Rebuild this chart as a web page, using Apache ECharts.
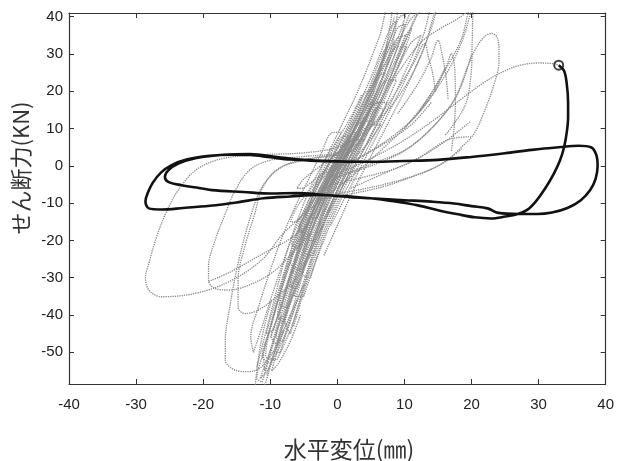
<!DOCTYPE html>
<html>
<head>
<meta charset="utf-8">
<script src="https://cdn.jsdelivr.net/npm/echarts@6/dist/echarts.min.js"></script>
<style>html,body{margin:0;padding:0;background:#fff}#c{width:617px;height:461px}</style>
</head>
<body>
<div id="c"></div>
<script>
// ---- axis ticks / labels ----
const xTicks = [-40, -30, -20, -10, 0, 10, 20, 30, 40];
const yTicks = [-50, -40, -30, -20, -10, 0, 10, 20, 30, 40];
const xTitle = '水平変位(㎜)';
const yTitle = 'せん断力(KN)';

// ---- gray (dotted) hysteresis traces: [displacement mm, shear kN] ----
const coreA = [[-10,-53],[-8.6,-46],[-7.2,-38],[-5.8,-29],[-4.3,-20],[-2.6,-11],[-0.8,-4],[1.2,3],[3.1,9],[5,16],[6.6,23],[8.1,30],[9.4,36],[10.2,40.5],[9.3,40],[7.9,34],[6.4,27],[4.6,20],[2.7,13],[0.8,6],[-1.2,-1],[-3.2,-8],[-5.1,-16],[-7,-26],[-8.8,-36],[-10.3,-45],[-11.2,-51],[-10,-53]];
const coreB = [[-8,-42],[-6.4,-33],[-4.9,-24],[-3.2,-15],[-1.4,-7],[0.5,0],[2.5,7],[4.4,14],[6.2,21],[7.7,28],[8.6,33],[7.6,31],[5.9,24],[4.1,17],[2.1,10],[0.1,3],[-1.9,-4],[-3.9,-12],[-5.7,-21],[-7.4,-31],[-8.9,-40],[-8,-42]];
const coreC = [[-6,-33],[-4.6,-25],[-3.1,-17],[-1.5,-9],[0.4,-2],[2.2,5],[4,12],[5.7,19],[7.1,25],[6.2,24],[4.6,18],[2.8,11],[0.9,4],[-1,-3],[-3,-11],[-4.8,-19],[-6.5,-28],[-7,-32],[-6,-33]];
const coreD = [[-4,-24],[-2.8,-17],[-1.3,-10],[0.5,-3],[2.3,4],[4,11],[5.4,17],[4.7,16.5],[3.1,10],[1.3,3],[-0.6,-4],[-2.4,-11],[-4.1,-18],[-5,-23],[-4,-24]];
const coreE = [[-7,-45],[-5.6,-36],[-4,-26],[-2.3,-17],[-0.4,-8],[1.7,0],[3.9,8],[6,16],[7.9,24],[9.5,31],[11,37],[12,41],[10.8,39],[9,33],[7.2,26],[5.3,18],[3.3,10],[1.2,2],[-0.9,-6],[-2.9,-15],[-4.7,-24],[-6.4,-34],[-7.8,-42],[-7,-45]];
const coreF = [[-11.2,-58],[-9.9,-50],[-8.5,-41],[-7.1,-32],[-5.6,-23],[-4,-14],[-2.2,-6],[-0.2,1],[1.8,8],[3.7,15],[5.4,22],[6.9,29],[8.1,35],[8.8,39],[7.9,37],[6.6,31],[5.1,24],[3.3,17],[1.4,10],[-0.6,3],[-2.6,-4],[-4.6,-12],[-6.4,-21],[-8.1,-31],[-9.6,-41],[-11,-50],[-12,-57],[-11.2,-58]];
const coreG = [[-9,-48],[-7.8,-40],[-6.6,-32],[-5.3,-24],[-3.9,-16],[-2.2,-8],[-0.3,-1],[1.6,6],[3.4,13],[5,19],[6.4,26],[7.5,32],[6.7,30],[5.4,24],[3.9,17],[2.1,10],[0.2,3],[-1.7,-4],[-3.6,-12],[-5.4,-21],[-7.1,-30],[-8.6,-39],[-9.8,-46],[-9,-48]];
const coreH = [[-10.5,-56],[-9.3,-49],[-8.1,-41],[-6.8,-33],[-5.4,-25],[-3.8,-17],[-2.1,-9],[-0.1,-2],[2,5],[4.1,12],[6,19],[7.7,26],[9.2,33],[10.6,40],[11.2,42]];
const coreI = [[-2.7,-12],[-0.7,-5],[1.3,2],[3.3,9],[5.1,16],[6.6,23],[7.8,30],[8.6,36],[9,42],[8.3,42],[8,39],[7.4,33],[6.5,26],[5.3,19],[3.8,12],[2,5],[0,-1],[-2,-8]];
const coreJ = [[-5,-18],[-3.3,-11],[-1.5,-5],[0.4,1],[2.3,7],[4.1,13],[3.4,12.5],[1.6,7],[-0.3,1],[-2.2,-5],[-4,-11],[-5.7,-17],[-5,-18]];
const coreK = [[-3,-14],[-1.2,-7],[0.8,-1],[2.8,5],[4.6,11],[6.2,17],[5.3,16],[3.5,10],[1.5,4],[-0.5,-3],[-2.4,-9],[-3.9,-14],[-3,-14]];
const coreL = [[-6,-22],[-4.4,-15],[-2.6,-8],[-0.7,-2],[1.1,4],[2.8,9],[2,8.5],[0.2,3],[-1.6,-3],[-3.5,-9],[-5.3,-16],[-6.8,-21],[-6,-22]];
const coreM = [[-8.5,-50],[-7.4,-43],[-6.1,-35],[-4.8,-27],[-3.3,-19],[-1.6,-11],[0.3,-4],[2.2,2],[4.2,9],[6.1,16],[7.8,22],[9.3,28],[10.4,33],[11.1,37],[10.2,35],[8.8,29],[7.1,22],[5.2,15],[3.1,8],[1,1],[-1.1,-6],[-3.1,-14],[-4.9,-23],[-6.6,-33],[-8.2,-43],[-9.3,-50],[-8.5,-50]];
const coreN = [[-9,-52],[-7,-44],[-5.2,-34],[-3.5,-24],[-1.8,-15],[0,-7],[2,0],[4,7],[6,14],[7.8,21],[9.2,27],[10.3,32],[9,32],[7,27],[5,21],[3,14],[0.8,7],[-1.5,0],[-3.6,-7],[-5.5,-15],[-7.3,-25],[-8.8,-35],[-10.2,-45],[-10.7,-51],[-9,-52]];
const coreO = [[-7.5,-38],[-5.5,-30],[-3.5,-21],[-1.2,-12],[1.2,-4],[3.5,3],[5.6,10],[7.4,17],[8.8,23],[7.5,23],[5.5,17],[3.2,10],[0.8,3],[-1.6,-4],[-3.9,-12],[-6,-21],[-7.8,-30],[-8.6,-37],[-7.5,-38]];
const coreP = [[-5.5,-28],[-3.2,-20],[-0.8,-11],[1.6,-3],[3.8,4],[5.8,11],[7.4,17],[6,17],[3.9,11],[1.6,4],[-0.9,-3],[-3.3,-11],[-5.5,-19],[-7,-26],[-5.5,-28]];
const coreQ = [[-10,-46],[-8.4,-38],[-7,-30],[-5.8,-22],[-4.6,-14],[-3.4,-6],[-2,1],[-0.4,7],[1.2,13],[2.8,19],[4.2,25],[5.5,31],[6.5,36],[7.2,42]];
const coreR = [[-1,-16],[1,-9],[3,-2],[5,5],[7,12],[9,19],[10.6,25],[12,31],[13,36],[13.8,42]];
const coreS = [[-4,-30],[-2.6,-22],[-1,-14],[1,-6],[3,1],[4.9,8],[6.8,15],[6,15.5],[4,9],[2,3],[0,-4],[-2,-12],[-3.8,-21],[-5.2,-29],[-4,-30]];
const coreT = [[-12,-54],[-11,-47],[-10,-40],[-9,-33],[-8,-26],[-6.8,-19],[-5.4,-12],[-3.8,-5],[-2,1],[0,7],[2,13],[3.6,19]];
const coreU = [[-8,-47],[-6.5,-39],[-5,-31],[-3.6,-23],[-2.1,-15],[-0.4,-8],[1.4,-1],[3.2,6],[5,13],[6.6,20],[8,27],[9.2,33],[10,38],[9,37],[7.6,31],[6.1,24],[4.4,17],[2.6,10],[0.7,3],[-1.3,-4],[-3.2,-12],[-4.9,-21],[-6.5,-30],[-7.9,-39],[-9.1,-46],[-8,-47]];
const coreV = [[-6.5,-43],[-5.2,-35],[-3.8,-27],[-2.3,-19],[-0.6,-11],[1.2,-4],[3,3],[4.8,10],[6.5,17],[8,24],[9.4,30],[10.5,35],[11.4,39],[12.5,42]];
const coreW = [[-10.8,-55],[-9.6,-47],[-8.3,-38],[-6.9,-29],[-5.3,-20],[-3.6,-12],[-1.7,-5],[0.3,2],[2.2,8],[3.9,14],[5.5,20],[4.5,20],[2.8,14],[1,8],[-1,1],[-3,-6],[-4.9,-14],[-6.6,-23],[-8.2,-32],[-9.7,-42],[-11,-51],[-10.8,-55]];
const coreX = [[-3.5,-20],[-1.7,-13],[0.2,-6],[2.2,1],[4.2,8],[6,15],[7.6,22],[9,29],[10.2,35],[8.8,34],[7.3,28],[5.6,21],[3.7,14],[1.7,7],[-0.3,0],[-2.3,-7],[-4.2,-15],[-5.3,-20],[-3.5,-20]];
const coreY = [[-7,-30],[-5.6,-23],[-4,-16],[-2.3,-9],[-0.5,-2],[1.3,5],[3,12],[4.5,18],[5.8,24],[6.9,30],[7.8,35],[8.5,40]];
const coreZ = [[-9.5,-44],[-8.2,-36],[-6.8,-28],[-5.3,-20],[-3.6,-12],[-1.8,-5],[0.1,2],[2,8],[1,8],[-0.9,2],[-2.8,-5],[-4.6,-12],[-6.4,-20],[-8,-29],[-9.5,-38],[-10.6,-45],[-9.5,-44]];
const coreAA = [[-2,-24],[0,-16],[2,-8],[4,-1],[6,6],[8,13],[10,20],[11.8,27],[13.2,33],[14.2,38],[14.8,42]];
const coreAB = [[-5,-35],[-3.5,-27],[-1.8,-19],[0,-11],[2,-4],[4,3],[6,10],[8,17],[9.8,24],[11.3,30],[12.5,35],[11,33],[9.2,27],[7.3,20],[5.3,13],[3.2,6],[1,-1],[-1.2,-9],[-3.2,-18],[-5,-27],[-6.4,-35],[-5,-35]];
const coreAC = [[-12.5,-50],[-11.2,-43],[-9.8,-35],[-8.3,-27],[-6.7,-19],[-5,-12],[-3.2,-5],[-1.3,2],[0.6,9],[-0.6,9],[-2.5,3],[-4.4,-4],[-6.3,-11],[-8.2,-19],[-10,-28],[-11.6,-37],[-12.9,-46],[-12.5,-50]];
const tailA = [[-6,-36],[-7.5,-44],[-9,-50],[-10.5,-55],[-11.5,-57],[-10.5,-52],[-9.5,-47],[-8.3,-40]];
const tailB = [[-5.5,-40],[-7,-47],[-8.8,-53],[-9.8,-55],[-9,-50],[-8,-44]];
const mid1 = [[-6,-15],[-3.5,-9],[-1,-3],[1.5,3],[4,8],[5.5,12],[4,12],[1.5,7],[-1,1],[-3.5,-5],[-6,-11],[-7,-15],[-6,-15]];
const mid2 = [[-3,-8],[-0.5,-4],[2,1],[4.5,6],[6.5,11],[5,11],[2.5,6],[0,1],[-2.5,-4],[-4.5,-8],[-3,-8]];
const mid3 = [[-5,-6],[-2.5,-2.5],[0,1],[2.5,4.5],[4,7],[2.5,7],[0,3.5],[-2.5,0],[-5,-3.5],[-6,-6],[-5,-6]];
const loopL1 = [[20,42],[18.5,33],[16,24],[12,14],[7,5],[2,-3],[-3,-10],[-8,-18],[-11.3,-25.3],[-16.2,-31.1],[-21.2,-34.2],[-26.2,-35.1],[-28.1,-33.3],[-28.6,-29.8],[-28.1,-26.2],[-27.1,-19.9],[-25.6,-12.8],[-23.7,-6.5],[-21,-1],[-17,2],[-11,3],[-5,3.5],[0,5],[4,9],[8,16],[11,24],[13,32],[14,38],[14.6,42]];
const loopL2 = [[-4,-18],[-7,-24],[-10,-29],[-13.8,-32.4],[-16.2,-33.3],[-18.2,-32.9],[-19.2,-30.7],[-19.2,-27.1],[-18.2,-19.9],[-16.7,-12.8],[-15.2,-6.5],[-13,-1],[-10,1.5],[-5,2.5],[0,3.5],[3,6]];
const loopL3 = [[-4,-24],[-6,-30],[-9,-35],[-11.8,-38.7],[-13.8,-39.6],[-14.8,-37.8],[-14.8,-30.6],[-13.8,-21.7],[-12.3,-12.8],[-11.3,-6.5],[-9,-1],[-5,1.5],[0,3],[2,5]];
const loopL4 = [[-7,-40],[-9,-48],[-11.3,-53.9],[-13.3,-55.2],[-15.2,-54.8],[-16.7,-52.1],[-16.7,-46.7],[-16.2,-39.6],[-14.8,-26.2],[-12.8,-12.8],[-11,-5],[-8,0],[-4,2],[0,3]];
const loopL5 = [[-5,-32],[-7.5,-42],[-9.5,-51],[-11.5,-60],[-12.3,-60],[-11.8,-52],[-11,-44],[-9.8,-36]];
const crossL = [[-19.2,-31],[-16,-28.5],[-13,-25.5],[-10,-22.5],[-7,-19.5],[-4,-15]];
const loopR1 = [[-2,-8],[3,-6.5],[8,-4.5],[12.5,-2],[16,1],[18.5,5],[20.4,8.7],[22,15],[23.4,22.1],[24.1,28],[24.1,31],[23.8,34.5],[23,35.5],[21.9,34.6],[20.5,31],[19.4,26.5],[17.4,17.6],[14,10],[10,4],[5,0],[0,-3]];
const toMark = [[-1,-3],[5,2],[10,6.9],[15,13.1],[18.9,18.5],[22.4,23],[25,25.5],[27.3,27],[30,27.6],[32.3,27.4],[33,27]];
const fanA = [[-3,-9],[2,-7.5],[7,-5.5],[11,-3],[15,0],[18.5,4.5]];
const fanB = [[-1,-5],[4,-3],[9,-0.5],[13,3],[16.4,7],[19.9,12]];
const fanC = [[0,-3],[5,0.5],[10,4.2],[14,10],[17.4,17.6],[19,24],[20,30]];
const fanD = [[2,-6],[7,-2],[12,2],[16.5,7],[19.9,7.8]];
const fanE = [[1,0],[5,4],[9,9],[12,14],[14.5,20],[16,26]];
const fanF = [[-2,-2],[3,2],[7,6],[11,11],[14,17]];
const sawA = [[4,8],[7,15],[9.5,22],[11.5,28],[13,32.8],[13.6,29],[14.2,25],[14.6,20]];
const sawB = [[9,14],[12,22],[14,29],[15,33.7],[15.6,30],[16.2,24],[16.5,18]];
const sawC = [[12,14],[14.5,21],[16.3,27],[17,30.1],[17.5,26],[17.6,18],[17.4,10],[17,4]];
const sawD = [[10,10],[13.5,18],[16.5,27],[18.5,34],[19.9,42],[20.2,42],[20.1,33],[19.9,24],[19,16],[16,8]];
const arcA = [[8,22],[11,30],[13,34],[15.5,37],[18,39.5],[19.8,42]];

// ---- black (bold) trace, starting at the circle marker ----
const blackPath = [[33,27],[33.8,25.5],[34.2,22],[34.4,17],[34.4,13],[34.2,9],[33.8,5],[33.2,1.5],[32.3,-2],[31,-6],[29.6,-9.5],[28.3,-11.8],[26.9,-12.9],[25,-13.6],[22.9,-14.1],[20.5,-13.8],[18,-13],[15,-11.9],[12,-10.6],[8,-9.4],[5,-8.7],[2,-8.2],[0,-8],[-3,-7.8],[-7,-8.2],[-11,-8.7],[-15,-9.8],[-19,-10.7],[-23,-11.3],[-26.2,-11.7],[-28.1,-11.4],[-28.6,-9.5],[-28.2,-7],[-27.5,-4.5],[-26.3,-1.8],[-24.7,0.2],[-22.5,1.7],[-19,2.7],[-16,3],[-13,2.9],[-10,2.3],[-7,1.7],[-4,1.4],[0,1.2],[5,1.1],[10,1.3],[15,1.6],[20,2.4],[25,3.4],[29,4.3],[33,5],[36,5.4],[37.8,5],[38.6,3],[38.8,0],[38.5,-3.5],[37.7,-6.5],[36.3,-9.2],[34.3,-11.3],[32,-12.5],[29.8,-12.9],[27,-12.9],[24,-12.6],[22.4,-11.4],[20,-10.8],[17.4,-10.1],[14,-9.6],[10,-9.2],[5,-8.7],[2,-8.4],[0,-8.1],[-3,-7.6],[-6,-7.3],[-10,-7.4],[-14,-7],[-18.7,-6.5],[-21,-5.8],[-23.2,-5.2],[-25.2,-4.3],[-25.7,-2.9],[-25.2,-1.2],[-23.7,0.6],[-21,2.1],[-17,3],[-13,3.2],[-9,2.4],[-5,1.6],[-1,1.3]];
const startPoint = [blackPath[0]];

const grayTraces = [coreA, coreB, coreC, coreD, coreE, coreF, coreG, coreH, coreI, coreJ, coreK, coreL, coreM,
  coreN, coreO, coreP, coreQ, coreR, coreS, coreT, coreU, coreV, coreW, coreX, coreY, coreZ, coreAA, coreAB, coreAC,
  tailA, tailB, mid1, mid2, mid3,
  loopL1, loopL2, loopL3, loopL4, loopL5, crossL, loopR1, toMark, fanA, fanB, fanC, fanD, fanE, fanF,
  sawA, sawB, sawC, sawD, arcA];

const chart = echarts.init(document.getElementById('c'), null, {renderer: 'canvas'});
const txt = {color: '#222', fontSize: 15, fontFamily: 'Liberation Sans, Arial, sans-serif'};
const series = grayTraces.map(d => ({
  type: 'line', data: d, showSymbol: false, smooth: 0.35, clip: true,
  lineStyle: {color: '#8a8a8a', width: 1.3, type: [1.3, 1]}, z: 2, silent: true
}));
series.push({
  type: 'line', data: blackPath, showSymbol: false, smooth: 0.35, clip: true,
  lineStyle: {color: '#111', width: 2.6}, z: 5, silent: true
});
series.push({
  type: 'scatter', data: startPoint, symbol: 'circle', symbolSize: 9,
  itemStyle: {color: 'rgba(0,0,0,0)', borderColor: '#111', borderWidth: 2}, z: 6, silent: true
});

const tickStyle = {show: true, inside: true, length: 5, lineStyle: {color: '#333', width: 1}};
const lineStyle = {show: true, lineStyle: {color: '#333', width: 1.2}};
chart.setOption({
  animation: false,
  backgroundColor: '#fff',
  grid: {left: 69, right: 11, top: 13, bottom: 77, containLabel: false},
  xAxis: [
    {type: 'value', position: 'bottom', min: -40, max: 40, interval: 10,
     axisLine: {...lineStyle, onZero: false}, axisTick: tickStyle, splitLine: {show: false},
     axisLabel: {...txt, margin: 13, customValues: xTicks, formatter: v => String(v)}},
    {type: 'value', position: 'top', min: -40, max: 40, interval: 10,
     axisLine: {...lineStyle, onZero: false}, axisTick: tickStyle, splitLine: {show: false},
     axisLabel: {show: false}}
  ],
  yAxis: [
    {type: 'value', position: 'left', min: -58.5, max: 41,
     axisLine: {...lineStyle, onZero: false}, splitLine: {show: false},
     axisTick: {...tickStyle, customValues: yTicks},
     axisLabel: {...txt, margin: 6, customValues: yTicks, formatter: v => String(v)}},
    {type: 'value', position: 'right', min: -58.5, max: 41,
     axisLine: {...lineStyle, onZero: false}, splitLine: {show: false},
     axisTick: {...tickStyle, customValues: yTicks},
     axisLabel: {show: false}}
  ],
  graphic: [
    {type: 'text', x: 21, y: 168, rotation: Math.PI / 2,
     style: {text: yTitle, fontSize: 22, fill: '#333', align: 'center', verticalAlign: 'middle',
             fontFamily: 'Noto Sans CJK JP, sans-serif'}},
    {type: 'text', x: 349, y: 449,
     style: {text: xTitle, fontSize: 23, fill: '#333', align: 'center', verticalAlign: 'middle',
             fontFamily: 'Noto Sans CJK JP, sans-serif'}}
  ],
  series: series
});
</script>
</body>
</html>
